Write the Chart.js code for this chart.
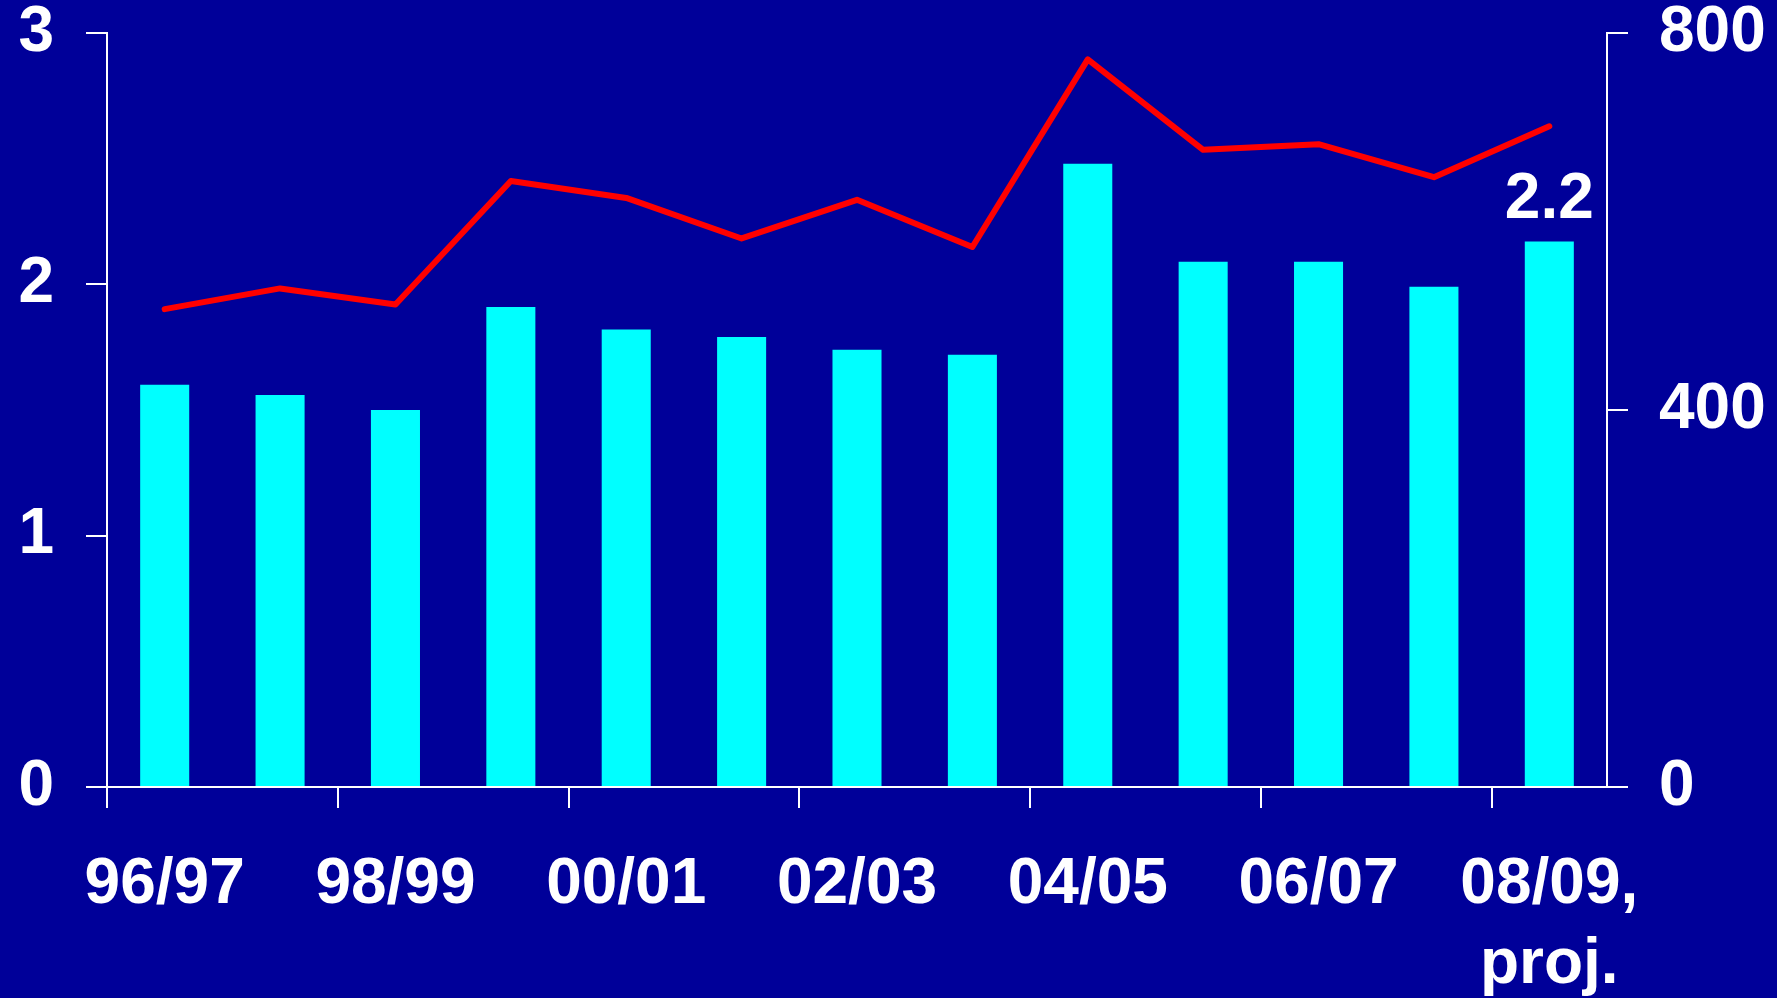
<!DOCTYPE html>
<html><head><meta charset="utf-8">
<script src="https://cdn.jsdelivr.net/npm/chart.js@4/dist/chart.umd.min.js"></script>
<style>html,body{margin:0;padding:0;background:#000099;overflow:hidden}</style>
</head><body><canvas id="c" width="1777" height="998" style="width:1777px;height:998px;display:block"></canvas>
<script>
const categories = ['96/97','97/98','98/99','99/00','00/01','01/02','02/03','03/04','04/05','05/06','06/07','07/08','08/09, proj.'];
const xTickLabels = ['96/97','','98/99','','00/01','','02/03','','04/05','','06/07','',['08/09,','proj.']];
const barValues = [1.60,1.56,1.50,1.91,1.82,1.79,1.74,1.72,2.48,2.09,2.09,1.99,2.17];
const lineValues = [507,529,512,643,625,582,623,573,772,676,682,647,701];
const leftTicks = [0,1,2,3];
const rightTicks = [0,400,800];

const FAMILY = "'Liberation Sans', Arial, sans-serif";
const XFONT = {family:FAMILY, size:64, weight:'bold', lineHeight:1.25};
const YFONT = {family:FAMILY, size:64, weight:'bold', lineHeight:1.05};

const bgPlugin = {
  id:'bg',
  beforeDraw(chart){const c=chart.ctx;c.save();c.fillStyle='#000099';c.fillRect(0,0,chart.width,chart.height);c.restore();}
};
const valueLabel = {
  id:'valueLabel',
  afterDatasetsDraw(chart){
    const meta = chart.getDatasetMeta(1);
    const i = barValues.length-1;
    const el = meta.data[i];
    const c = chart.ctx; c.save();
    c.font = "bold 64px " + FAMILY;
    c.fillStyle = '#ffffff'; c.textAlign='center'; c.textBaseline='alphabetic';
    c.fillText(barValues[i].toFixed(1), el.x, el.y - 24);
    c.restore();
  }
};

new Chart(document.getElementById('c'), {
  data:{
    labels: categories,
    datasets:[
      {type:'line', data:lineValues, yAxisID:'y1', borderColor:'#ff0000', borderWidth:6, borderCapStyle:'round', borderJoinStyle:'round', pointRadius:0, tension:0, order:0},
      {type:'bar', data:barValues, yAxisID:'y', backgroundColor:'#00ffff', borderWidth:0, barPercentage:0.425, categoryPercentage:1, order:1}
    ]
  },
  options:{
    responsive:false, animation:false, devicePixelRatio:1,
    layout:{padding:0},
    plugins:{legend:{display:false}, tooltip:{enabled:false}},
    scales:{
      x:{
        offset:true,
        grid:{offset:true, drawOnChartArea:false, tickLength:21, lineWidth:2,
          color:(ctx)=> (ctx.index % 2 === 0 && ctx.index < categories.length) ? '#ffffff' : 'rgba(0,0,0,0)'},
        border:{display:true,color:'#ffffff',width:2},
        ticks:{autoSkip:false, maxRotation:0, color:'#ffffff', font:XFONT, padding:37,
          callback:(v,i)=>xTickLabels[i]},
        afterFit(s){s.height = 998-787;}
      },
      y:{
        position:'left', min:0, max:3,
        afterBuildTicks(s){s.ticks = leftTicks.map(v=>({value:v}));},
        grid:{drawOnChartArea:false, tickLength:21, lineWidth:2, color:'#ffffff'},
        border:{display:true,color:'#ffffff',width:2},
        ticks:{color:'#ffffff', font:YFONT, padding:32},
        afterFit(s){s.width = 107; s.paddingTop = 33; s.paddingBottom = 0;}
      },
      y1:{
        position:'right', min:0, max:800,
        afterBuildTicks(s){s.ticks = rightTicks.map(v=>({value:v}));},
        grid:{drawOnChartArea:false, tickLength:21, lineWidth:2, color:'#ffffff'},
        border:{display:true,color:'#ffffff',width:2},
        ticks:{color:'#ffffff', font:YFONT, padding:31},
        afterFit(s){s.width = 1777-1607; s.paddingTop = 33; s.paddingBottom = 0;}
      }
    }
  },
  plugins:[bgPlugin, valueLabel]
});
</script>
</body></html>
